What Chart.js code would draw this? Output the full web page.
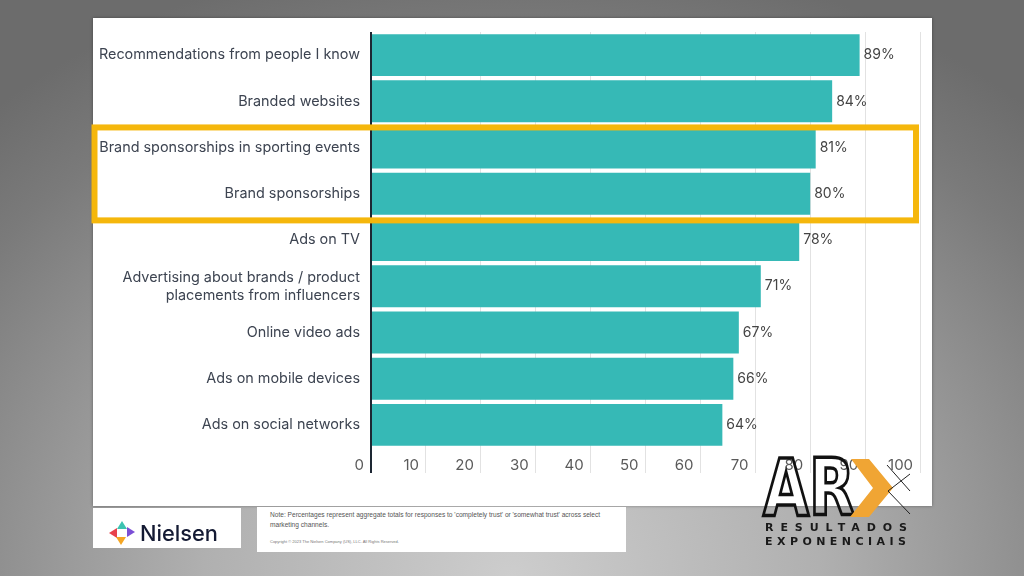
<!DOCTYPE html>
<html>
<head>
<meta charset="utf-8">
<script src="https://cdn.jsdelivr.net/npm/chart.js@4.4.1/dist/chart.umd.min.js"></script>
<style>
  html, body { margin: 0; padding: 0; }
  body {
    width: 1024px; height: 576px; overflow: hidden; position: relative;
    background: radial-gradient(ellipse 75% 110% at 50% 100%, #cdcdcd 0%, #b0b0b0 40%, #7a7a7a 85%, #6c6c6c 100%);
    font-family: Inter, "Noto Sans", sans-serif;
  }
  #panel {
    position: absolute; left: 93px; top: 18px; width: 839px; height: 488px;
    background: #fff; box-shadow: 0 0 3px rgba(0,0,0,0.35);
  }
  #chart-box { position: absolute; left: 88px; top: 18px; width: 844px; height: 488px; }
  #nielsen {
    position: absolute; left: 93px; top: 508px; width: 148px; height: 40px; background: #fff;
  }
  #note {
    position: absolute; left: 257px; top: 507px; width: 369px; height: 45px; background: #fff;
    font-family: "Liberation Sans", Arial, sans-serif; color: #555;
  }
  #note .txt { position: absolute; left: 13px; top: 3px; width: 350px; font-size: 6.6px; line-height: 10px; }
  #note .copy { position: absolute; left: 13px; top: 32px; font-size: 4px; color: #777; }
  #overlay { position: absolute; left: 0; top: 0; pointer-events: none; }
</style>
</head>
<body>
<div id="panel"></div>
<div id="chart-box"><canvas id="trustChart"></canvas></div>

<div id="nielsen"></div>
<div id="note">
  <div class="txt">Note: Percentages represent aggregate totals for responses to 'completely trust' or 'somewhat trust' across select marketing channels.</div>
  <div class="copy">Copyright © 2023 The Nielsen Company (US), LLC. All Rights Reserved.</div>
</div>

<svg id="overlay" width="1024" height="576">
  <!-- Nielsen logo -->
  <polygon points="109,533 117,528 117,538" fill="#e8424b"/>
  <polygon points="122,521 127,529 117,529" fill="#3cc3b1"/>
  <polygon points="135,532 127,527 127,537" fill="#7b4fd6"/>
  <polygon points="121,545 126,537 116,537" fill="#f5a623"/>
  <text x="140" y="541" font-family="Inter, sans-serif" font-size="22" font-weight="500" fill="#141a33" textLength="78" lengthAdjust="spacingAndGlyphs">Nielsen</text>

  <!-- ARX logo -->
  <text x="763" y="515" font-family="DejaVu Sans, sans-serif" font-size="78" font-weight="bold" fill="none" stroke="#111" stroke-width="3.5" textLength="92" lengthAdjust="spacingAndGlyphs">AR</text>
  <polygon points="851,459 869,459 893,488 869,517 850,517 873,488" fill="#f0a534"/>
  <line x1="887" y1="465" x2="910" y2="491" stroke="#222" stroke-width="1"/>
  <line x1="910" y1="474" x2="888" y2="491" stroke="#222" stroke-width="1"/>
  <line x1="888" y1="491" x2="910" y2="514" stroke="#222" stroke-width="1"/>
  <text x="765" y="531" font-family="DejaVu Sans, sans-serif" font-size="11" font-weight="bold" fill="#1a1a1a" textLength="142" lengthAdjust="spacing">RESULTADOS</text>
  <text x="765" y="545" font-family="DejaVu Sans, sans-serif" font-size="11" font-weight="bold" fill="#1a1a1a" textLength="141" lengthAdjust="spacing">EXPONENCIAIS</text>
</svg>

<script>
// channels, top to bottom
const channels = [
  "Recommendations from people I know",
  "Branded websites",
  "Brand sponsorships in sporting events",
  "Brand sponsorships",
  "Ads on TV",
  ["Advertising about brands / product", "placements from influencers"],
  "Online video ads",
  "Ads on mobile devices",
  "Ads on social networks"
];
const trustValues = [89, 84, 81, 80, 78, 71, 67, 66, 64];
const xMin = 0;
const xMax = 100;
const xStep = 10;

// highlighted rows (yellow frame)
const highlightFrom = 2;
const highlightTo = 3;

Chart.defaults.font.family = 'Inter, "Noto Sans", sans-serif';

// value labels at the bar ends
const valueLabels = {
  id: "valueLabels",
  afterDatasetsDraw(chart) {
    const ctx = chart.ctx;
    const meta = chart.getDatasetMeta(0);
    ctx.save();
    ctx.font = "14px Inter, sans-serif";
    ctx.fillStyle = "#444";
    ctx.textAlign = "left";
    ctx.textBaseline = "middle";
    meta.data.forEach((bar, i) => {
      ctx.fillText(trustValues[i] + "%", bar.x + 4, bar.y);
    });
    ctx.restore();
  }
};

// yellow frame around the sponsorship rows
const highlightFrame = {
  id: "highlightFrame",
  afterDraw(chart) {
    const y = chart.scales.y;
    const ctx = chart.ctx;
    const top = (y.getPixelForValue(highlightFrom - 1) + y.getPixelForValue(highlightFrom)) / 2 + 3;
    const bottom = (y.getPixelForValue(highlightTo) + y.getPixelForValue(highlightTo + 1)) / 2 + 3.5;
    ctx.save();
    ctx.strokeStyle = "#f5b70c";
    ctx.lineWidth = 6;
    ctx.strokeRect(6.5, top, chart.chartArea.right - 4 - 6.5, bottom - top);
    ctx.restore();
  }
};

new Chart(document.getElementById("trustChart"), {
  type: "bar",
  data: {
    labels: channels,
    datasets: [{
      data: trustValues,
      backgroundColor: "#36b9b6",
      borderWidth: 0,
      barPercentage: 1,
      categoryPercentage: 0.908
    }]
  },
  options: {
    indexAxis: "y",
    responsive: true,
    maintainAspectRatio: false,
    animation: false,
    layout: { padding: { top: 14, right: 12, bottom: 18, left: 0 } },
    plugins: {
      legend: { display: false },
      tooltip: { enabled: false }
    },
    scales: {
      x: {
        min: xMin,
        max: xMax,
        afterFit: (s) => { s.height = 40; },
        border: { display: false },
        grid: {
          color: (c) => (c.tick && c.tick.value === 0 ? "#1d2733" : "#e2e2e2"),
          lineWidth: (c) => (c.tick && c.tick.value === 0 ? 2 : 1),
          tickLength: 25
        },
        ticks: {
          stepSize: xStep,
          align: "end",
          padding: -17,
          color: "#5a5a5a",
          font: { size: 15 },
          callback: (v) => v + " \u2009"
        }
      },
      y: {
        afterFit: (s) => {
          s.width = 283;
          s.paddingTop = 0;
          s.paddingBottom = 0;
        },
        border: { display: false },
        grid: { display: false, drawTicks: false },
        ticks: {
          padding: 11,
          color: "#3d4451",
          font: { size: 14.4, lineHeight: 1.25 }
        }
      }
    }
  },
  plugins: [valueLabels, highlightFrame]
});
</script>
</body>
</html>
